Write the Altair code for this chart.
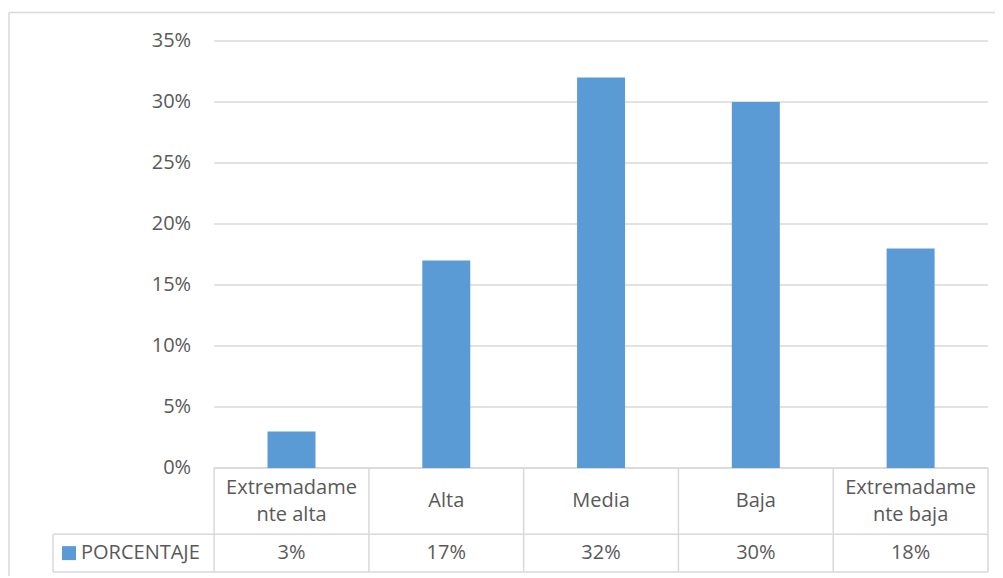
import altair as alt
import pandas as pd

# ---- data ----
categories = ["Extremadamente alta", "Alta", "Media", "Baja", "Extremadamente baja"]
cat_labels = ["Extremadame\nnte alta", "Alta", "Media", "Baja", "Extremadame\nnte baja"]
values = [0.03, 0.17, 0.32, 0.30, 0.18]
table_values = ["3%", "17%", "32%", "30%", "18%"]
y_ticks = [0.0, 0.05, 0.10, 0.15, 0.20, 0.25, 0.30, 0.35]
series_name = "PORCENTAJE"

# ---- style / layout ----
BLUE = "#5B9BD5"
GRID = "#d9d9d9"
TXT = "#595959"
FONT = "Open Sans"
FS = 20
LH = 27

N = len(categories)
LEGEND_W = 1.041          # legend cell width in category units
ROW1 = -0.0543            # bottom of category-label row (y units)
ROW2 = -0.08525           # bottom of value row
YMAX = 0.35
BAR_HALF = 0.155

W, H = 935, 531
PX_PER_Y = H / (YMAX - ROW2)
xs = alt.Scale(domain=[-LEGEND_W, N], nice=False, zero=False)
ys = alt.Scale(domain=[ROW2, YMAX], nice=False, zero=False)

df = pd.DataFrame({
    "cat": categories,
    "label": cat_labels,
    "value": values,
    "vtext": table_values,
    "i": list(range(N)),
})
ticks = pd.DataFrame({"t": y_ticks})

base = alt.Chart(df)

# gridlines
grid = alt.Chart(ticks).mark_rule(color=GRID, strokeWidth=1.5).encode(
    x=alt.X("a:Q", scale=xs, axis=None), x2="b:Q",
    y=alt.Y("t:Q", scale=ys, axis=None),
).transform_calculate(a="0", b=str(N))

# y tick labels
ylab = alt.Chart(ticks).mark_text(
    align="right", baseline="middle", dx=-23, font=FONT, fontSize=FS, color=TXT
).encode(
    x=alt.X("a:Q", scale=xs, axis=None),
    y=alt.Y("t:Q", scale=ys, axis=None),
    text=alt.Text("t:Q", format=".0%"),
).transform_calculate(a="0")

# bars
bars = base.transform_calculate(
    x0=f"datum.i + 0.5 - {BAR_HALF}", x1=f"datum.i + 0.5 + {BAR_HALF}"
).mark_rect(color=BLUE).encode(
    x=alt.X("x0:Q", scale=xs, axis=None), x2="x1:Q",
    y=alt.Y("value:Q", scale=ys, axis=None), y2=alt.datum(0),
)

# table lines
lines = pd.DataFrame({
    "x1": [0, -LEGEND_W, -LEGEND_W] + [float(k) for k in range(N + 1)] + [-LEGEND_W],
    "x2": [N, N, N] + [float(k) for k in range(N + 1)] + [-LEGEND_W],
    "y1": [0, ROW1, ROW2] + [0.0] * (N + 1) + [ROW1],
    "y2": [0, ROW1, ROW2] + [ROW2] * (N + 1) + [ROW2],
})
tlines = alt.Chart(lines).mark_rule(color=GRID, strokeWidth=1.5).encode(
    x=alt.X("x1:Q", scale=xs, axis=None), x2="x2:Q",
    y=alt.Y("y1:Q", scale=ys, axis=None), y2="y2:Q",
)

# category labels (row 1), multi-line blocks centred in the row
catlab = base.transform_calculate(
    xc="datum.i + 0.5",
    nl="length(split(datum.label, '\\n'))",
).transform_calculate(
    yc=f"{ROW1 / 2} + (datum.nl - 1) * {LH / 2} / {PX_PER_Y}"
).mark_text(
    align="center", baseline="middle", lineBreak="\n", lineHeight=LH,
    font=FONT, fontSize=FS, color=TXT
).encode(
    x=alt.X("xc:Q", scale=xs, axis=None),
    y=alt.Y("yc:Q", scale=ys, axis=None),
    text="label:N",
)

# values (row 2)
vallab = base.transform_calculate(
    xc="datum.i + 0.5", yc=f"{(ROW1 + ROW2) / 2}"
).mark_text(
    align="center", baseline="middle", font=FONT, fontSize=FS, color=TXT
).encode(
    x=alt.X("xc:Q", scale=xs, axis=None),
    y=alt.Y("yc:Q", scale=ys, axis=None),
    text="vtext:N",
)

# legend key in table
leg_df = pd.DataFrame({"name": [series_name]})
leg_sq = alt.Chart(leg_df).transform_calculate(
    yc=f"{(ROW1 + ROW2) / 2}"
).mark_square(size=196, color=BLUE, opacity=1, filled=True).encode(
    x=alt.value(16),
    y=alt.Y("yc:Q", scale=ys, axis=None),
)
leg_tx = alt.Chart(leg_df).transform_calculate(
    yc=f"{(ROW1 + ROW2) / 2}"
).mark_text(
    align="left", baseline="middle", font=FONT, fontSize=FS, color=TXT
).encode(
    x=alt.value(28),
    y=alt.Y("yc:Q", scale=ys, axis=None),
    text="name:N",
)

# outer chart frame (decoration)
frame_top = alt.Chart(leg_df).mark_rule(color=GRID, strokeWidth=1.5).encode(
    x=alt.value(-44), x2=alt.value(W + 7), y=alt.value(-28.5)
)
frame_left = alt.Chart(leg_df).mark_rule(color=GRID, strokeWidth=1.5).encode(
    x=alt.value(-44), y=alt.value(-28.5), y2=alt.value(H + 4)
)

chart = alt.layer(
    grid, tlines, bars, ylab, catlab, vallab, leg_sq, leg_tx, frame_top, frame_left
).properties(
    width=W, height=H,
    padding={"left": 45, "top": 33, "right": 7, "bottom": 4},
    autosize=alt.AutoSizeParams(type="none"),
    background="white",
).configure_view(stroke=None)

chart.save("out.html", embed_options={"renderer": "svg", "actions": False})
